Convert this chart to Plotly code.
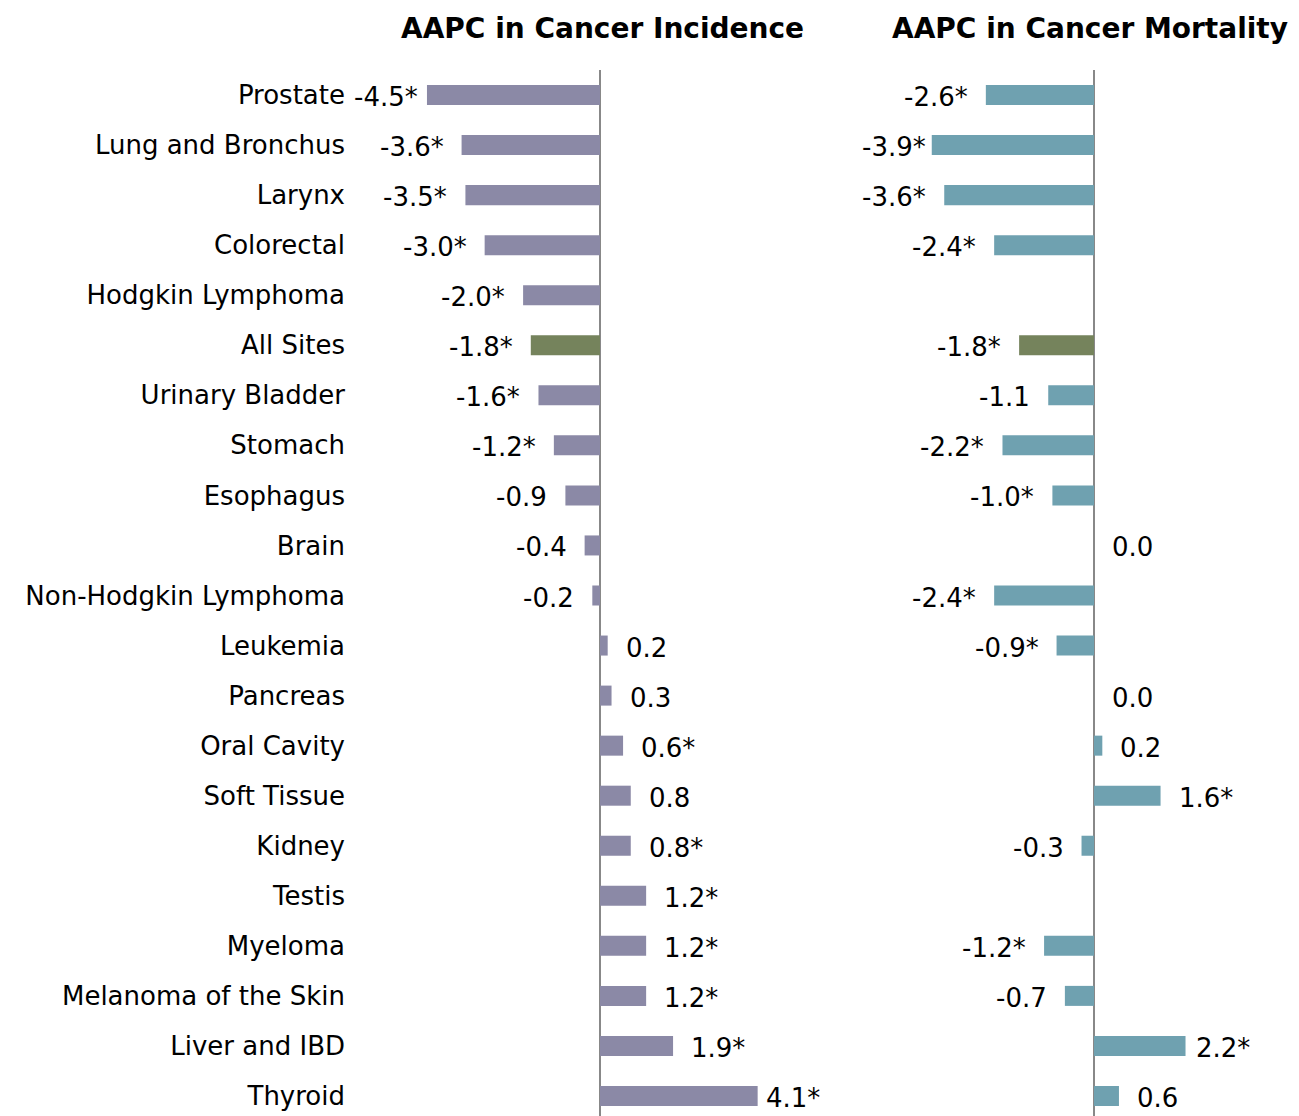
import plotly.graph_objects as go

categories = ["Prostate", "Lung and Bronchus", "Larynx", "Colorectal", "Hodgkin Lymphoma",
              "All Sites", "Urinary Bladder", "Stomach", "Esophagus", "Brain",
              "Non-Hodgkin Lymphoma", "Leukemia", "Pancreas", "Oral Cavity", "Soft Tissue",
              "Kidney", "Testis", "Myeloma", "Melanoma of the Skin", "Liver and IBD", "Thyroid"]
incidence = [-4.5, -3.6, -3.5, -3.0, -2.0, -1.8, -1.6, -1.2, -0.9, -0.4, -0.2,
             0.2, 0.3, 0.6, 0.8, 0.8, 1.2, 1.2, 1.2, 1.9, 4.1]
incidence_sig = [1, 1, 1, 1, 1, 1, 1, 1, 0, 0, 0, 0, 0, 1, 0, 1, 1, 1, 1, 1, 1]
mortality = [-2.6, -3.9, -3.6, -2.4, None, -1.8, -1.1, -2.2, -1.0, 0.0, -2.4,
             -0.9, 0.0, 0.2, 1.6, -0.3, None, -1.2, -0.7, 2.2, 0.6]
mortality_sig = [1, 1, 1, 1, 0, 1, 0, 1, 1, 0, 1, 1, 0, 0, 1, 0, 0, 1, 0, 1, 0]
titles = ["AAPC in Cancer Incidence", "AAPC in Cancer Mortality"]

W, H = 1299, 1116
FONT = "DejaVu Sans"
FS = 26
INC_COLOR = "#8B89A6"
MORT_COLOR = "#6FA1B0"
ALL_COLOR = "#75835C"

# panel geometry (pixels)
left_dom_px = (352, 822)
left_zero, left_scale = 600, 38.45
right_dom_px = (860, 1252)
right_zero, right_scale = 1094, 41.6

def rng(dom, zero, scale):
    return [(dom[0] - zero) / scale, (dom[1] - zero) / scale]

left_range = rng(left_dom_px, left_zero, left_scale)
right_range = rng(right_dom_px, right_zero, right_scale)

fig = go.Figure()

def colors(base):
    return [ALL_COLOR if c == "All Sites" else base for c in categories]

fig.add_trace(go.Bar(y=categories, x=incidence, orientation="h", xaxis="x", yaxis="y",
                     marker=dict(color=colors(INC_COLOR), line=dict(width=0)),
                     width=0.4, hoverinfo="skip", showlegend=False))
fig.add_trace(go.Bar(y=categories, x=[v if v is not None else 0 for v in mortality],
                     orientation="h", xaxis="x2", yaxis="y",
                     marker=dict(color=colors(MORT_COLOR), line=dict(width=0)),
                     width=0.4, hoverinfo="skip", showlegend=False))

annotations = []
GAP = 16
YS = -2

def add_labels(values, sig, xref, rng_, scale, zero):
    for cat, v, s in zip(categories, values, sig):
        if v is None:
            continue
        txt = f"{v:.1f}" + ("*" if s else "")
        est_w = len(txt) * 0.62 * FS
        vpx = zero + v * scale
        font = dict(family=FONT, size=FS, color="black")
        if v < 0:
            if vpx - GAP - est_w < zero + rng_[0] * scale:
                annotations.append(dict(x=rng_[0], y=cat, xref=xref, yref="y", text=txt,
                                        xanchor="left", yshift=YS, showarrow=False, font=font))
            else:
                annotations.append(dict(x=v, y=cat, xref=xref, yref="y", text=txt,
                                        xanchor="right", xshift=-GAP, yshift=YS,
                                        showarrow=False, font=font))
        else:
            if vpx + GAP + est_w > zero + rng_[1] * scale:
                annotations.append(dict(x=rng_[1], y=cat, xref=xref, yref="y", text=txt,
                                        xanchor="right", yshift=YS, showarrow=False, font=font))
            else:
                annotations.append(dict(x=v, y=cat, xref=xref, yref="y", text=txt,
                                        xanchor="left", xshift=GAP, yshift=YS,
                                        showarrow=False, font=font))

add_labels(incidence, incidence_sig, "x", left_range, left_scale, left_zero)
add_labels(mortality, mortality_sig, "x2", right_range, right_scale, right_zero)

for title, cx in zip(titles, [602, 1090]):
    annotations.append(dict(x=cx / W, y=1 - 28 / H, xref="paper", yref="paper", text=f"<b>{title}</b>",
                            xanchor="center", yanchor="middle", showarrow=False,
                            font=dict(family=FONT, size=28, color="black")))

xcommon = dict(showgrid=False, showticklabels=False, ticks="", showline=False,
               zeroline=True, zerolinecolor="#888888", zerolinewidth=2, fixedrange=True)

fig.update_layout(
    width=W, height=H,
    margin=dict(l=0, r=0, t=0, b=0),
    paper_bgcolor="white", plot_bgcolor="white",
    xaxis=dict(domain=[left_dom_px[0] / W, left_dom_px[1] / W], range=left_range, anchor="y", **xcommon),
    xaxis2=dict(domain=[right_dom_px[0] / W, right_dom_px[1] / W], range=right_range, anchor="y", **xcommon),
    yaxis=dict(type="category", categoryorder="array", categoryarray=categories,
               range=[20.4, -0.5], domain=[0, (H - 70) / H], anchor="x",
               showgrid=False, ticks="", showline=False, zeroline=False,
               ticklabelstandoff=6, fixedrange=True,
               tickfont=dict(family=FONT, size=FS, color="black")),
    annotations=annotations,
)

fig.write_html("out.html", config={"displayModeBar": False},
               post_script="document.body.style.margin='0';document.body.style.overflow='hidden';")
